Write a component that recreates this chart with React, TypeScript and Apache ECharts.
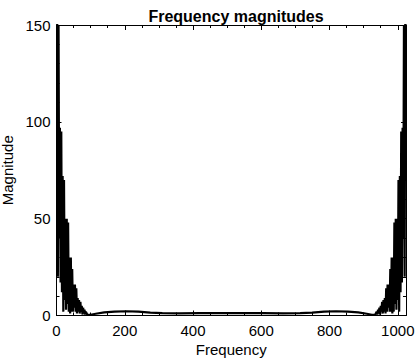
import React, { useEffect, useRef } from "react";
import * as echarts from "echarts";

const TITLE = "Frequency magnitudes";
const X_LABEL = "Frequency";
const Y_LABEL = "Magnitude";

// Frequency bins (x) and magnitudes (y)
const freqs: number[] = [
  0, 2, 4, 6, 8, 10, 12, 14, 16, 18, 20, 22, 24, 26, 28, 30, 32, 34, 36, 38,
  40, 42, 44, 46, 48, 50, 52, 54, 56, 58, 60, 62, 64, 66, 68, 70, 72, 74, 76,
  78, 80, 82, 84, 86, 90, 100, 115, 140, 170, 205, 240, 275, 310, 360, 420,
  512, 604, 664, 714, 749, 784, 819, 854, 884, 909, 924, 934, 938, 940, 942,
  944, 946, 948, 950, 952, 954, 956, 958, 960, 962, 964, 966, 968, 970, 972,
  974, 976, 978, 980, 982, 984, 986, 988, 990, 992, 994, 996, 998, 1000, 1002,
  1004, 1006, 1008, 1010, 1012, 1014, 1016, 1018, 1020, 1022, 1024,
];
const magnitudes: number[] = [
  400, 160, 20, 150, 40, 97, 17, 95, 12, 72, 2, 70, 8, 50, 3, 50, 6, 48, 2, 30,
  1, 30, 2, 24, 2, 16, 4, 16, 2, 14, 1, 9, 2, 8, 1, 7, 2, 5, 0.5,
  4, 1, 3, 0.5, 2, 0.5, 0.4, 0.9, 1.6, 2.0, 2.2, 2.0, 1.5, 1.2, 1.1, 1.2,
  1.2, 1.2, 1.1, 1.2, 1.5, 2.0, 2.2, 2.0, 1.6, 0.9, 0.4, 0.5, 2, 0.5, 3,
  1, 4, 0.5, 5, 2, 7, 1, 8, 2, 9, 1, 14, 2, 16, 4,
  16, 2, 24, 2, 30, 1, 30, 2, 48, 6, 50, 3, 50, 8, 70,
  2, 72, 12, 95, 17, 97, 40, 150, 20, 160, 400,
];

const X_MIN = 0;
const X_MAX = 1024;
const X_INTERVAL = 200;
const Y_MIN = 0;
const Y_MAX = 150;
const Y_INTERVAL = 50;

const FONT = "'Liberation Sans', Arial, Helvetica, sans-serif";

export default function App() {
  const ref = useRef<HTMLDivElement>(null);

  useEffect(() => {
    if (!ref.current) return;
    const chart = echarts.init(ref.current, undefined, { renderer: "svg" });

    const tickCommon = {
      axisLine: { show: true, onZero: false, lineStyle: { color: "#000", width: 1 } },
      axisTick: { show: true, inside: true, length: 5, lineStyle: { color: "#000", width: 1 } },
      minorTick: { show: true, length: 3, lineStyle: { color: "#000", width: 1 } },
      splitLine: { show: false },
      minorSplitLine: { show: false },
    };

    const xBase = {
      type: "value" as const,
      min: X_MIN,
      max: X_MAX,
      interval: X_INTERVAL,
      ...tickCommon,
      minorTick: { ...tickCommon.minorTick, splitNumber: 4 },
    };
    const yBase = {
      type: "value" as const,
      min: Y_MIN,
      max: Y_MAX,
      interval: Y_INTERVAL,
      ...tickCommon,
      minorTick: { ...tickCommon.minorTick, splitNumber: 5 },
    };

    chart.setOption({
      animation: false,
      backgroundColor: "#fff",
      title: {
        text: TITLE,
        left: 231,
        textAlign: "center",
        top: 3,
        textStyle: { fontFamily: FONT, fontSize: 16, fontWeight: "bold", color: "#000" },
      },
      grid: {
        left: 56.5,
        right: 9,
        top: 25,
        bottom: 42.5,
        containLabel: false,
        outerBoundsMode: "none",
      },
      xAxis: [
        {
          ...xBase,
          position: "bottom",
          name: X_LABEL,
          nameLocation: "middle",
          nameGap: 25,
          nameTextStyle: { fontFamily: FONT, fontSize: 15, color: "#000" },
          axisLabel: {
            show: true,
            showMaxLabel: false,
            margin: 7,
            fontFamily: FONT,
            fontSize: 15,
            color: "#000",
            formatter: (v: number) => String(v),
          },
        },
        {
          ...xBase,
          position: "top",
          axisLabel: { show: false },
        },
      ],
      yAxis: [
        {
          ...yBase,
          position: "left",
          name: Y_LABEL,
          nameLocation: "middle",
          nameGap: 36,
          nameTextStyle: { fontFamily: FONT, fontSize: 15, color: "#000" },
          axisLabel: {
            show: true,
            margin: 6,
            fontFamily: FONT,
            fontSize: 15,
            color: "#000",
            formatter: (v: number) => String(v),
          },
        },
        {
          ...yBase,
          position: "right",
          axisLabel: { show: false },
        },
      ],
      series: [
        {
          type: "line",
          xAxisIndex: 0,
          yAxisIndex: 0,
          data: freqs.map((f, i) => [f, magnitudes[i]]),
          showSymbol: false,
          symbol: "none",
          clip: true,
          lineStyle: { color: "#000", width: 2.2 },
          silent: true,
        },
      ],
    });

    return () => chart.dispose();
  }, []);

  return (
    <div
      ref={ref}
      style={{ position: "fixed", left: 0, top: 0, width: 415, height: 358 }}
    />
  );
}
